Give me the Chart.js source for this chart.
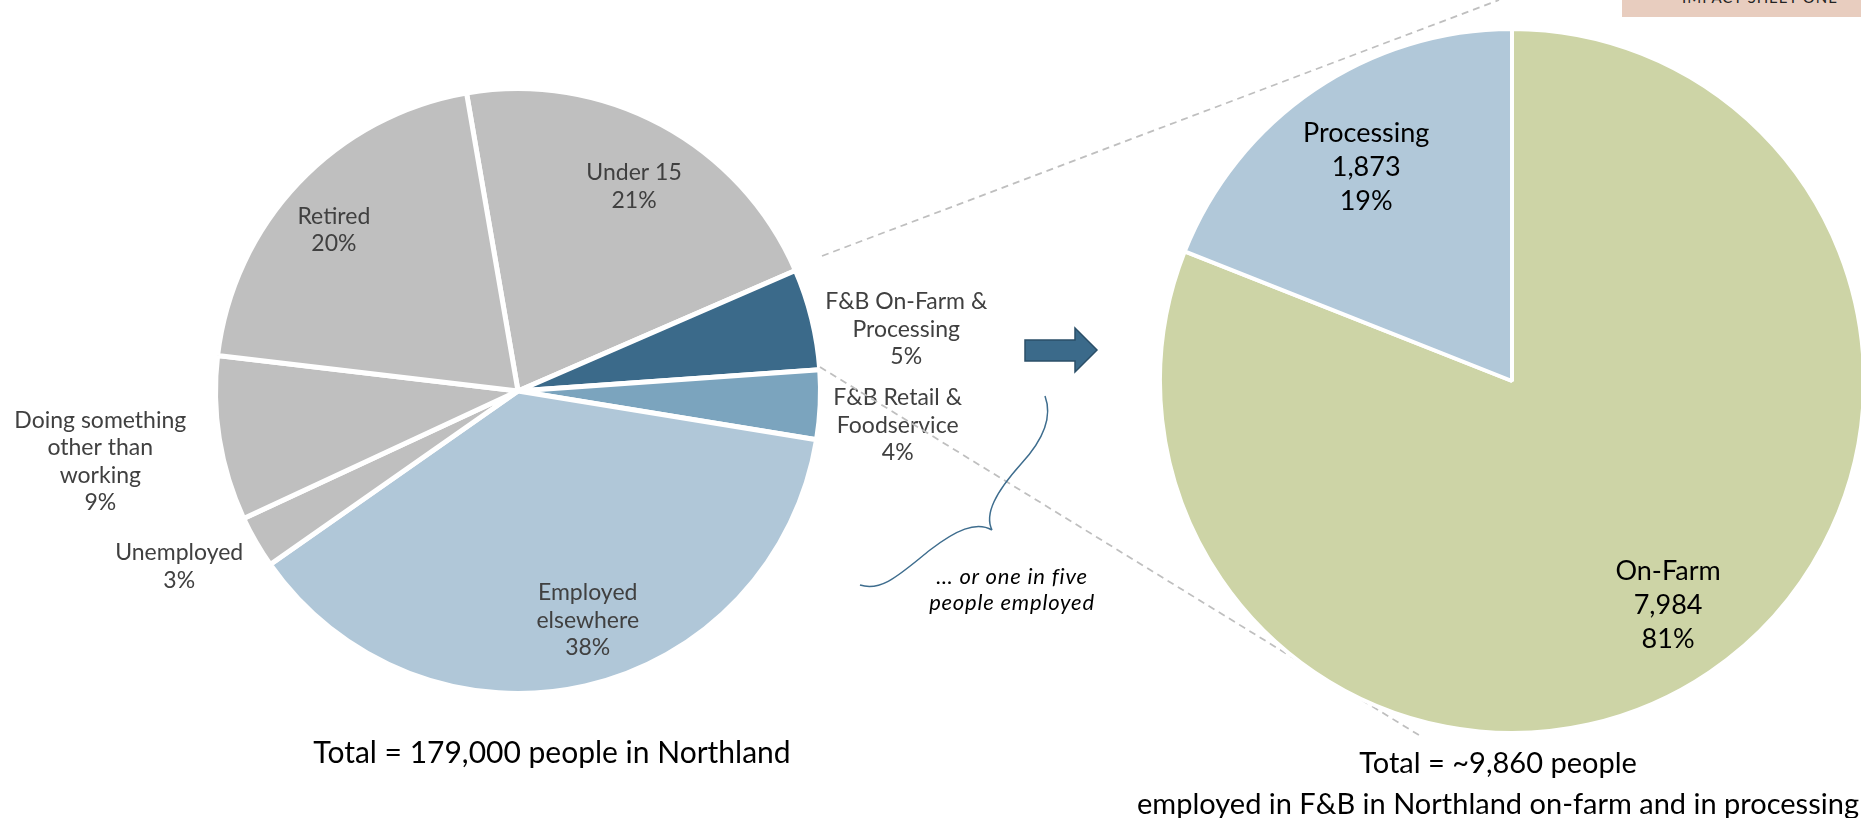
<!DOCTYPE html>
<html>
<head>
<meta charset="utf-8">
<title>Northland F&amp;B employment</title>
<script src="https://cdn.jsdelivr.net/npm/chart.js@4"></script>
<style>
    body {
        margin: 0;
        width: 1861px;
        height: 818px;
        overflow: hidden;
        background: #fff;
        position: relative;
        font-family: Lato, 'Noto Sans', sans-serif;
    }

    canvas {
        position: absolute;
        left: 0;
        top: 0;
    }

    .texto {
        position: absolute;
        white-space: nowrap;
        text-align: center;
        transform: translateX(-50%);
        color: #000;
    }

    .etiqueta {
        position: absolute;
        left: 1622px;
        top: 0;
        width: 239px;
        height: 17px;
        background: #e8cdbf;
        overflow: hidden;
    }

    .etiqueta span {
        position: absolute;
        left: 60px;
        top: -10px;
        font-size: 15px;
        line-height: 15px;
        letter-spacing: 1px;
        color: #222;
    }
</style>
</head>
<body>
<canvas id="chartPopulation" width="1861" height="818"></canvas>
<canvas id="chartFB" width="1861" height="818"></canvas>

<div class="etiqueta"><span>IMPACT SHEET ONE</span></div>
<div class="texto" style="left:552px; top:736px; font-size:30px; line-height:30px;">Total = 179,000 people in Northland</div>
<div class="texto" style="left:1498px; top:741px; font-size:29px; line-height:41px;">Total = ~9,860 people<br>employed in F&amp;B in Northland on-farm and in processing</div>
<div class="texto" style="left:1012px; top:563px; font-size:22px; line-height:26px; font-style:italic; letter-spacing:0.8px;">&hellip; or one in five<br>people employed</div>

<script>
// population of Northland, share of 179,000 people (clockwise from "Under 15")
var popCategories = [
    ['Under 15'],
    ['F&B On-Farm &', 'Processing'],
    ['F&B Retail &', 'Foodservice'],
    ['Employed', 'elsewhere'],
    ['Unemployed'],
    ['Doing something', 'other than', 'working'],
    ['Retired']
];
var popShares = [21.2, 5.4, 3.7, 37.7, 2.8, 8.8, 20.4];
var popColors = ['#bfbfbf', '#3b6a8a', '#7ba4be', '#b0c7d8', '#bfbfbf', '#bfbfbf', '#bfbfbf'];

// people employed in F&B on-farm and in processing
var fbCategories = ['On-Farm', 'Processing'];
var fbPeople = [7984, 1873];
var fbColors = ['#cdd4a6', '#b1c8d9'];

function percent(values, i) {
    var total = values.reduce(function (a, b) { return a + b; }, 0);
    return Math.round(values[i] / total * 100) + '%';
}

// text inside / next to each slice
var sliceLabels = {
    id: 'sliceLabels',
    afterDatasetsDraw: function (chart, args, opts) {
        var ctx = chart.ctx;
        var meta = chart.getDatasetMeta(0);
        ctx.save();
        ctx.font = opts.size + 'px Lato, "Noto Sans", sans-serif';
        ctx.fillStyle = opts.color;
        ctx.textAlign = 'center';
        ctx.textBaseline = 'alphabetic';
        meta.data.forEach(function (arc, i) {
            var p = arc.getProps(['x', 'y', 'startAngle', 'endAngle', 'outerRadius'], true);
            var meio = (p.startAngle + p.endAngle) / 2 + opts.nudge[i] * Math.PI / 180;
            var r = p.outerRadius * opts.radius[i];
            var cx = p.x + Math.cos(meio) * r;
            var cy = p.y + Math.sin(meio) * r;
            var linhas = opts.lines(i);
            var y0 = cy - (linhas.length - 1) * opts.lineHeight / 2 + opts.size * 0.36;
            for (var k = 0; k < linhas.length; k++) {
                ctx.fillText(linhas[k], cx, y0 + k * opts.lineHeight);
            }
        });
        ctx.restore();
    }
};

// dashed zoom lines, arrow and brace between the two pies
var decorations = {
    id: 'decorations',
    afterDraw: function (chart) {
        var ctx = chart.ctx;
        ctx.save();

        ctx.strokeStyle = '#bfbfbf';
        ctx.lineWidth = 1.75;
        ctx.setLineDash([7, 5]);
        ctx.beginPath();
        ctx.moveTo(822, 256);
        ctx.lineTo(1499, 0);
        ctx.moveTo(820, 367);
        ctx.lineTo(1422, 737);
        ctx.stroke();
        ctx.setLineDash([]);

        ctx.fillStyle = '#3b6a8a';
        ctx.strokeStyle = '#2b4f68';
        ctx.lineWidth = 1.5;
        ctx.beginPath();
        ctx.moveTo(1025, 340);
        ctx.lineTo(1075, 340);
        ctx.lineTo(1075, 328);
        ctx.lineTo(1097, 350);
        ctx.lineTo(1075, 372);
        ctx.lineTo(1075, 361);
        ctx.lineTo(1025, 361);
        ctx.closePath();
        ctx.fill();
        ctx.stroke();

        ctx.strokeStyle = '#3e6d8e';
        ctx.lineWidth = 1.5;
        ctx.beginPath();
        ctx.moveTo(1045, 396);
        ctx.bezierCurveTo(1052, 415, 1046, 437, 1021, 464);
        ctx.bezierCurveTo(996, 492, 984, 514, 992, 530);
        ctx.moveTo(992, 530);
        ctx.bezierCurveTo(976, 521, 956, 530, 930, 550);
        ctx.bezierCurveTo(900, 574, 882, 592, 860, 585);
        ctx.stroke();

        ctx.restore();
    }
};

new Chart(document.getElementById('chartPopulation'), {
    type: 'pie',
    data: {
        labels: popCategories.map(function (c) { return c.join(' '); }),
        datasets: [{
            data: popShares,
            backgroundColor: popColors,
            borderColor: '#ffffff',
            borderWidth: 5,
            rotation: -9.8,
            radius: 302.5,
            clip: false
        }]
    },
    options: {
        responsive: false,
        animation: false,
        events: [],
        rotation: -9.8,
        radius: 302.5,
        layout: { padding: { left: 198, right: 1023, top: 71, bottom: 107 } },
        plugins: {
            legend: { display: false },
            tooltip: { enabled: false },
            sliceLabels: {
                size: 23,
                lineHeight: 27.5,
                color: '#404040',
                radius: [0.78, 1.30, 1.26, 0.79, 1.26, 1.40, 0.81],
                nudge: [1.1, 4.6, 2.4, -4.1, 2.7, -0.4, -2.2],
                lines: function (i) { return popCategories[i].concat([percent(popShares, i)]); }
            }
        }
    },
    plugins: [sliceLabels, decorations]
});

new Chart(document.getElementById('chartFB'), {
    type: 'pie',
    data: {
        labels: fbCategories,
        datasets: [{
            data: fbPeople,
            backgroundColor: fbColors,
            borderColor: '#ffffff',
            borderWidth: 4,
            rotation: 0,
            radius: 352,
            clip: false
        }]
    },
    options: {
        responsive: false,
        animation: false,
        events: [],
        rotation: 0,
        radius: 352,
        layout: { padding: { left: 1163, right: 0, top: 32, bottom: 88 } },
        plugins: {
            legend: { display: false },
            tooltip: { enabled: false },
            sliceLabels: {
                size: 27,
                lineHeight: 34,
                color: '#000000',
                radius: [0.773, 0.737],
                nudge: [-0.8, 0],
                lines: function (i) {
                    return [fbCategories[i], fbPeople[i].toLocaleString('en-US'), percent(fbPeople, i)];
                }
            }
        }
    },
    plugins: [sliceLabels]
});
</script>
</body>
</html>
